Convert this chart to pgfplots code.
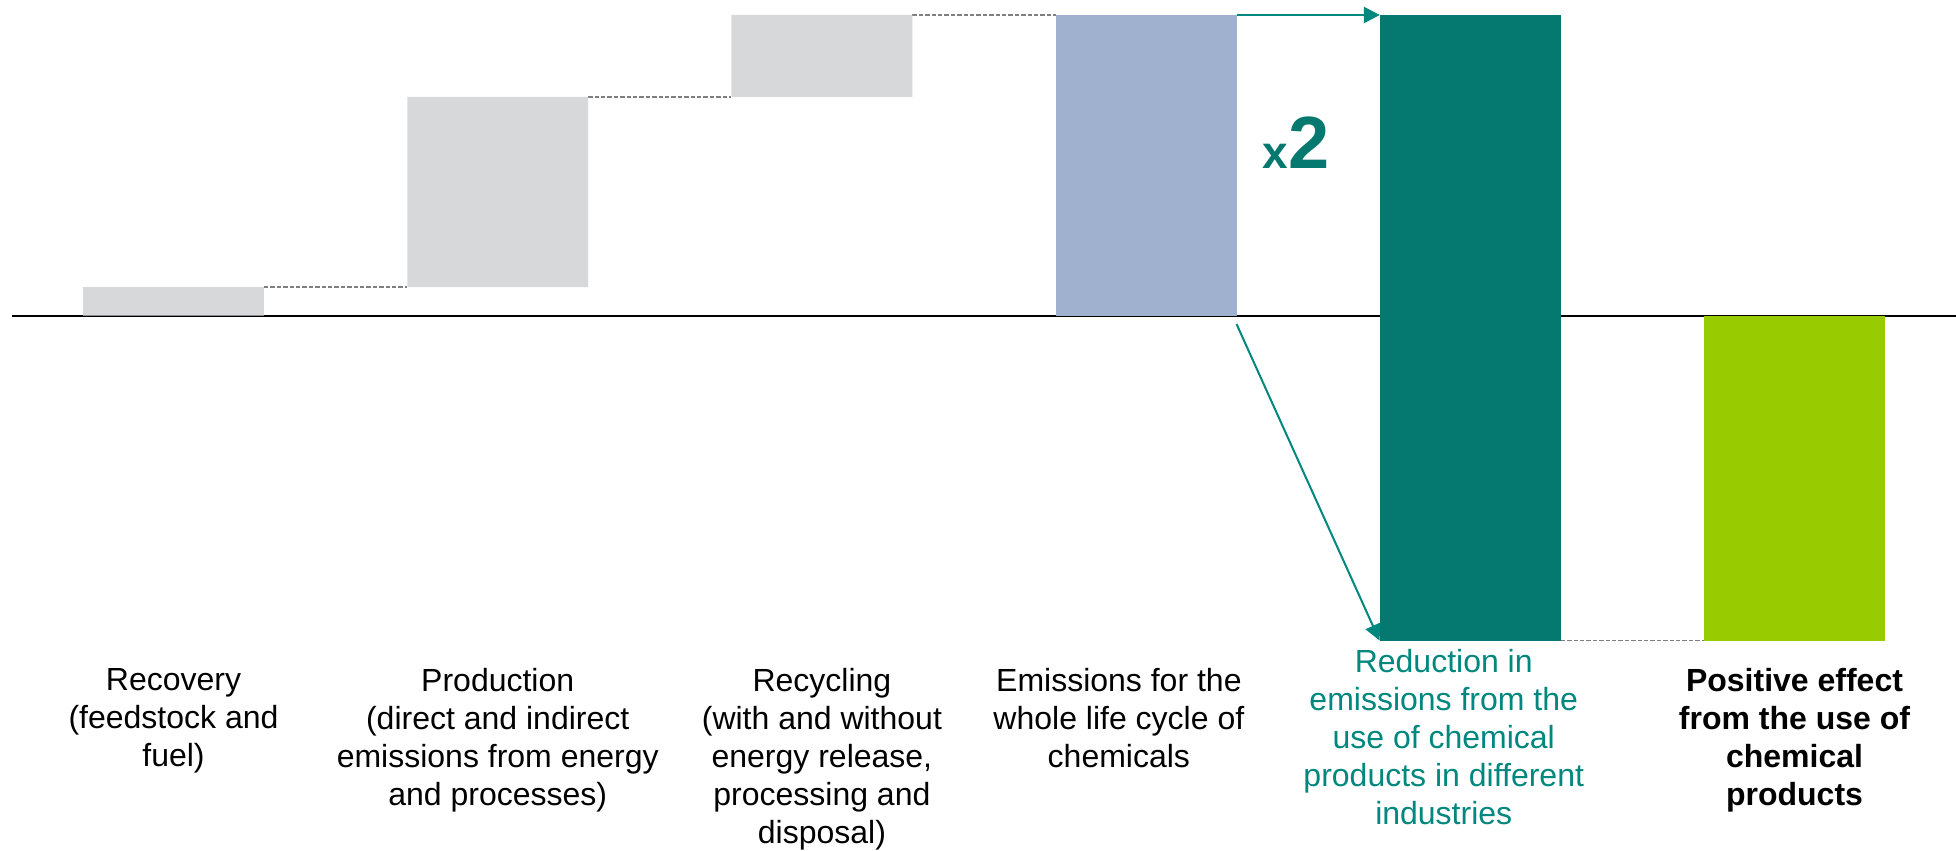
\documentclass[border=0pt]{standalone}
\usepackage{fontspec}
\setmainfont{Liberation Sans}
\usepackage{pgfplots}
\pgfplotsset{compat=1.18}
\usetikzlibrary{arrows.meta}

\definecolor{stepgray}{HTML}{D7D8DA}
\definecolor{totalblue}{HTML}{9FB1CE}
\definecolor{reductionteal}{HTML}{05786F}
\definecolor{arrowteal}{HTML}{00877E}
\definecolor{netgreen}{HTML}{99CC00}
\definecolor{connector}{HTML}{7F7F7F}

\newcommand{\lbl}{\fontsize{16}{19}\selectfont}
\tikzset{cat/.style={anchor=north, align=center, inner sep=0pt, font=\lbl}}

\begin{document}
\begin{tikzpicture}
\begin{axis}[
  scale only axis, width=978pt, height=425pt,
  xmin=-0.5352, xmax=5.4982, ymin=-177.69, ymax=104.99,
  hide axis, clip=false,
  ybar stacked, stack negative=on previous, bar width=0.558,
]
% waterfall: invisible base, then the visible segments
\addplot[draw=none, fill=none] coordinates {(0,0) (1,9.54) (2,72.73) (3,0) (4,100) (5,0)};
\addplot[draw=none, fill=stepgray] coordinates {(0,9.54) (1,63.19) (2,27.27) (3,0) (4,0) (5,0)};
\addplot[draw=none, fill=totalblue] coordinates {(0,0) (1,0) (2,0) (3,100) (4,0) (5,0)};
\addplot[draw=none, fill=reductionteal] coordinates {(0,0) (1,0) (2,0) (3,0) (4,-208.1) (5,0)};
\addplot[draw=none, fill=netgreen] coordinates {(0,0) (1,0) (2,0) (3,0) (4,0) (5,-108.1)};

% zero line, interrupted by the reduction bar
\draw[line width=1pt] (axis cs:-0.497,0) -- (axis cs:3.721,0);
\draw[line width=1pt] (axis cs:4.279,0) -- (axis cs:5.5,0);

% dashed connectors between bars
\draw[connector, line width=0.65pt, dash pattern=on 2.2pt off 1pt] (axis cs:0.279,9.54) -- (axis cs:0.721,9.54);
\draw[connector, line width=0.65pt, dash pattern=on 2.2pt off 1pt] (axis cs:1.279,72.73) -- (axis cs:1.721,72.73);
\draw[connector, line width=0.65pt, dash pattern=on 2.2pt off 1pt] (axis cs:2.279,100) -- (axis cs:2.721,100);
\draw[connector, line width=0.65pt, dash pattern=on 2.2pt off 1pt] (axis cs:4.279,-108.1) -- (axis cs:4.721,-108.1);

% arrows showing the doubling
\draw[arrowteal, line width=1.2pt, -{Triangle[length=8pt,width=8pt]}]
  (axis cs:3.279,100) -- (axis cs:3.721,100);
\draw[arrowteal, line width=1pt, -{Triangle[length=8pt,width=8pt]}]
  (axis cs:3.279,-2.8) -- (axis cs:3.72,-108);
\node[anchor=base, inner sep=0pt, text=reductionteal, font=\bfseries]
  at (axis cs:3.462,48.8) {\fontsize{23}{23}\selectfont x\fontsize{37}{37}\selectfont 2};

% category labels
\node[cat] at (axis cs:0,-117.2) {Recovery\\(feedstock and\\fuel)};
\node[cat] at (axis cs:1,-117.2) {Production\\(direct and indirect\\emissions from energy\\and processes)};
\node[cat] at (axis cs:2,-117.2) {Recycling\\(with and without\\energy release,\\processing and\\disposal)};
\node[cat] at (axis cs:2.916,-117.2) {Emissions for the\\whole life cycle of\\chemicals};
\node[cat, text=arrowteal] at (axis cs:3.918,-110.8) {Reduction in\\emissions from the\\use of chemical\\products in different\\industries};
\node[cat, font=\lbl\bfseries] at (axis cs:5,-117.2) {Positive effect\\from the use of\\chemical\\products};

\coordinate (bl) at (rel axis cs:0,0);
\coordinate (tr) at (rel axis cs:1,1);
\end{axis}
\pgfresetboundingbox
\path[use as bounding box] (bl) rectangle (tr);
\end{tikzpicture}
\end{document}
